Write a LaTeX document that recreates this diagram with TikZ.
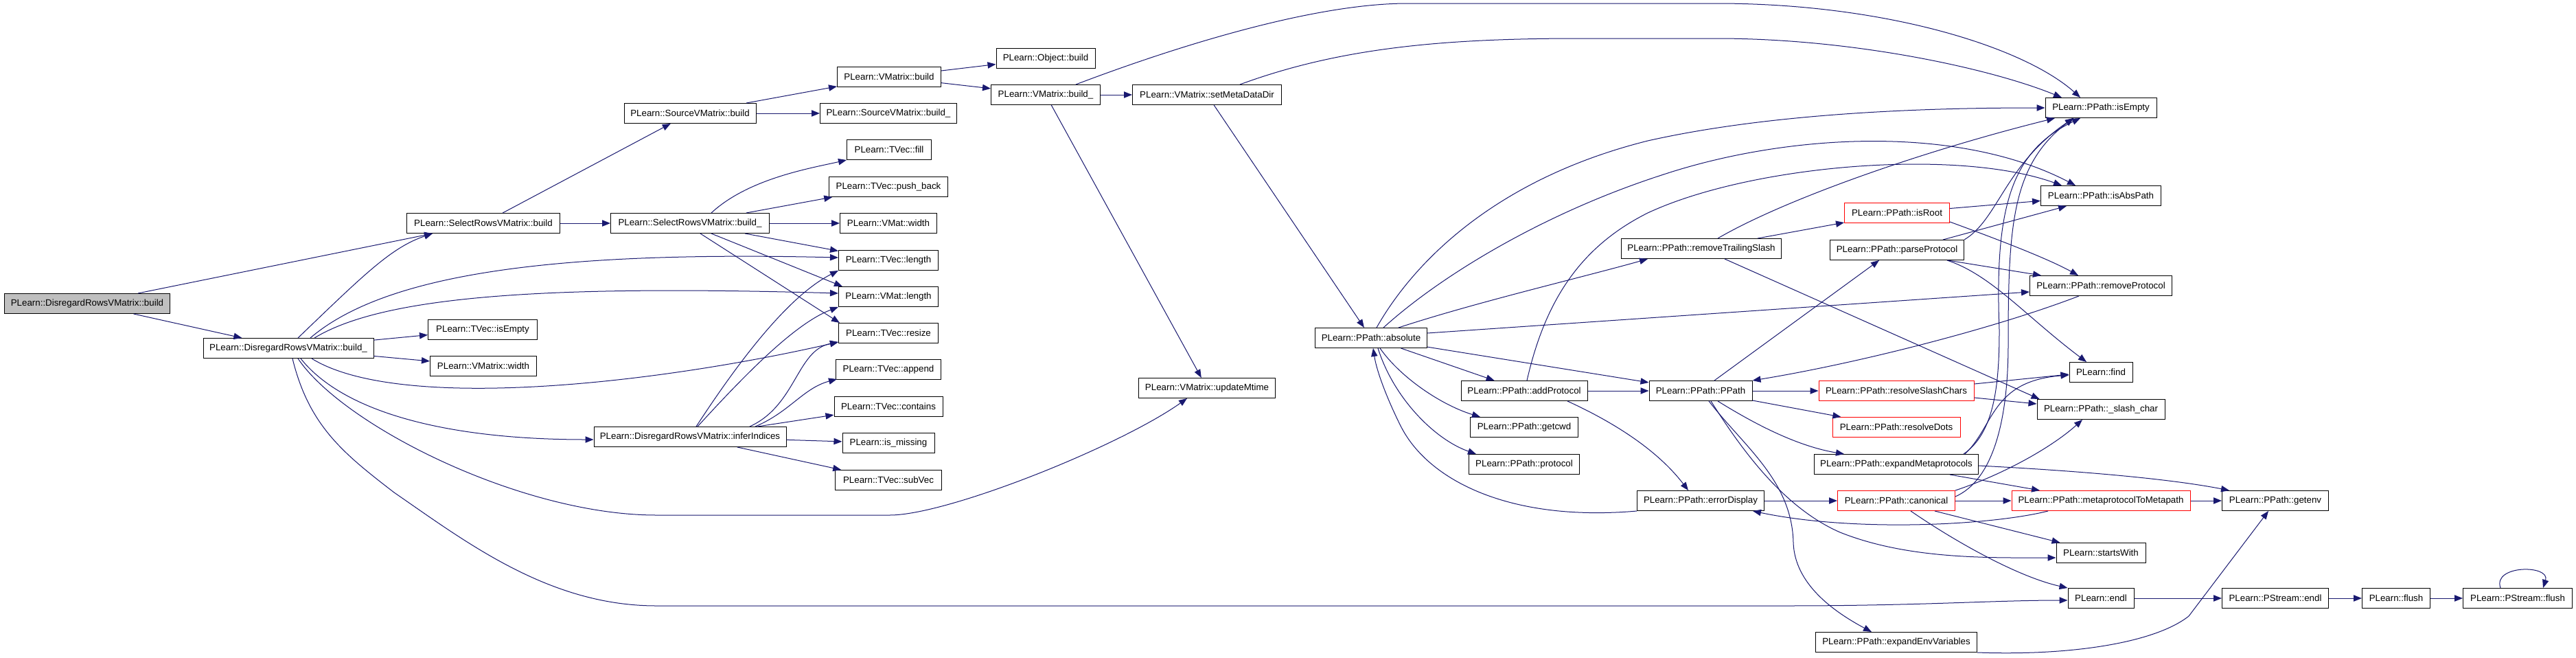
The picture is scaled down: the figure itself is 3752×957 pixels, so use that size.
\documentclass[tikz,border=0pt]{standalone}
\usepackage{fontspec}
\setmainfont{Liberation Sans}
\usetikzlibrary{arrows.meta}
\definecolor{edgec}{HTML}{191970}
\definecolor{redc}{HTML}{FF0000}
\definecolor{grayc}{HTML}{BFBFBF}
\tikzset{
  fn/.style={draw=black, line width=0.75pt, fill=white, minimum height=21.75pt, inner sep=0pt, font=\fontsize{10}{12}\selectfont, anchor=center},
  rfn/.style={fn, draw=redc},
  gfn/.style={fn, fill=grayc},
  e/.style={draw=edgec, line width=0.75pt, -{Triangle[length=9pt,width=7pt]}},
}
\begin{document}
\begin{tikzpicture}[x=0.75pt,y=-0.75pt]
\useasboundingbox (0,0) rectangle (3752,957);
\fill[white] (0,0) rectangle (3752,957);
% nodes
\node[gfn, minimum width=180.75pt] (drb) at (127,442) {PLearn::DisregardRowsVMatrix::build};
\node[fn, minimum width=186pt] (drb_) at (420,507) {PLearn::DisregardRowsVMatrix::build\_};
\node[fn, minimum width=167.25pt] (srb) at (704,325) {PLearn::SelectRowsVMatrix::build};
\node[fn, minimum width=119.25pt] (tisempty) at (703,480) {PLearn::TVec::isEmpty};
\node[fn, minimum width=116.25pt] (vmwidth) at (704,533) {PLearn::VMatrix::width};
\node[fn, minimum width=144pt] (svb) at (1005,165) {PLearn::SourceVMatrix::build};
\node[fn, minimum width=173.25pt] (srb_) at (1005,325) {PLearn::SelectRowsVMatrix::build\_};
\node[fn, minimum width=210pt] (infer) at (1005,636) {PLearn::DisregardRowsVMatrix::inferIndices};
\node[fn, minimum width=113.25pt] (vmb) at (1295,112) {PLearn::VMatrix::build};
\node[fn, minimum width=149.25pt] (svb_) at (1294,165) {PLearn::SourceVMatrix::build\_};
\node[fn, minimum width=92.25pt] (fill) at (1295,218) {PLearn::TVec::fill};
\node[fn, minimum width=129.75pt] (pushback) at (1294,272) {PLearn::TVec::push\_back};
\node[fn, minimum width=105.75pt] (vmatwidth) at (1294,325) {PLearn::VMat::width};
\node[fn, minimum width=108.75pt] (tlength) at (1294,379) {PLearn::TVec::length};
\node[fn, minimum width=108.75pt] (vlength) at (1294,432) {PLearn::VMat::length};
\node[fn, minimum width=108.75pt] (resize) at (1294,485) {PLearn::TVec::resize};
\node[fn, minimum width=114.75pt] (append) at (1294,538) {PLearn::TVec::append};
\node[fn, minimum width=118.5pt] (contains) at (1294,592) {PLearn::TVec::contains};
\node[fn, minimum width=100.5pt] (ismissing) at (1294,645) {PLearn::is\_missing};
\node[fn, minimum width=116.25pt] (subvec) at (1294,699) {PLearn::TVec::subVec};
\node[fn, minimum width=108pt] (objb) at (1523,85) {PLearn::Object::build};
\node[fn, minimum width=119.25pt] (vmb_) at (1523,138) {PLearn::VMatrix::build\_};
\node[fn, minimum width=162.75pt] (setmeta) at (1758,138) {PLearn::VMatrix::setMetaDataDir};
\node[fn, minimum width=149.25pt] (upd) at (1758,565) {PLearn::VMatrix::updateMtime};
\node[fn, minimum width=122.25pt] (absolute) at (1997,492) {PLearn::PPath::absolute};
\node[fn, minimum width=138pt] (addprot) at (2220,569) {PLearn::PPath::addProtocol};
\node[fn, minimum width=117.75pt] (getcwd) at (2220,622) {PLearn::PPath::getcwd};
\node[fn, minimum width=120.75pt] (protocol) at (2220,676) {PLearn::PPath::protocol};
\node[fn, minimum width=174.75pt] (rts) at (2478,362) {PLearn::PPath::removeTrailingSlash};
\node[fn, minimum width=112.5pt] (ppath) at (2477,569) {PLearn::PPath::PPath};
\node[fn, minimum width=138.75pt] (errdisp) at (2477,729) {PLearn::PPath::errorDisplay};
\node[rfn, minimum width=114.75pt] (isroot) at (2763,310) {PLearn::PPath::isRoot};
\node[fn, minimum width=146.25pt] (parse) at (2763,364) {PLearn::PPath::parseProtocol};
\node[rfn, minimum width=169.5pt] (rsc) at (2762,569) {PLearn::PPath::resolveSlashChars};
\node[rfn, minimum width=139.5pt] (rdots) at (2762,622) {PLearn::PPath::resolveDots};
\node[fn, minimum width=179.25pt] (expmeta) at (2762,676) {PLearn::PPath::expandMetaprotocols};
\node[rfn, minimum width=128.25pt] (canon) at (2762,729) {PLearn::PPath::canonical};
\node[fn, minimum width=176.25pt] (expenv) at (2762,935) {PLearn::PPath::expandEnvVariables};
\node[fn, minimum width=121.5pt] (isempty) at (3060,157) {PLearn::PPath::isEmpty};
\node[fn, minimum width=131.25pt] (isabs) at (3060,285) {PLearn::PPath::isAbsPath};
\node[fn, minimum width=155.25pt] (rmprot) at (3060,416) {PLearn::PPath::removeProtocol};
\node[fn, minimum width=69pt] (find) at (3060,542) {PLearn::find};
\node[fn, minimum width=139.5pt] (slash) at (3060,596) {PLearn::PPath::\_slash\_char};
\node[rfn, minimum width=195pt] (m2m) at (3060,729) {PLearn::PPath::metaprotocolToMetapath};
\node[fn, minimum width=116.25pt] (getenv) at (3314,729) {PLearn::PPath::getenv};
\node[fn, minimum width=97.5pt] (startswith) at (3060,805) {PLearn::startsWith};
\node[fn, minimum width=72pt] (endl) at (3060,871) {PLearn::endl};
\node[fn, minimum width=116.25pt] (psendl) at (3314,871) {PLearn::PStream::endl};
\node[fn, minimum width=74.25pt] (flush) at (3490,871) {PLearn::flush};
\node[fn, minimum width=119.25pt] (psflush) at (3667,871) {PLearn::PStream::flush};
% edges from DisregardRowsVMatrix::build
\draw[e] (drb) -- (srb);
\draw[e] (drb) -- (drb_);
% DisregardRowsVMatrix::build_
\draw[e] ([shift={(14,0)}]drb_.north) .. controls (530,400) and (570,360) .. ([shift={(-74,0)}]srb.south);
\draw[e] ([shift={(32,0)}]drb_.north) .. controls (560,400) and (800,365) .. ([shift={(0,-4)}]tlength.west);
\draw[e] ([shift={(38,0)}]drb_.north) .. controls (560,430) and (800,415) .. ([shift={(0,-5)}]vlength.west);
\draw[e] (drb_) -- (tisempty);
\draw[e] (drb_) -- (vmwidth);
\draw[e] ([shift={(34,0)}]drb_.south) .. controls (580,600) and (950,560) .. ([shift={(0,13)}]resize.west);
\draw[e] ([shift={(18,0)}]drb_.south) .. controls (500,600) and (650,640) .. ([shift={(0,4)}]infer.west);
\draw[e] ([shift={(14,0)}]drb_.south) .. controls (500,620) and (760,750) .. (956,750) -- (1296,750) .. controls (1380,750) and (1630,650) .. ([shift={(-29,0)}]upd.south);
\draw[e] ([shift={(6,0)}]drb_.south) .. controls (450,620) and (500,660) .. (574,717) .. controls (680,790) and (800,882) .. (956,882) -- (2600,882) .. controls (2800,882) and (2900,874) .. ([shift={(0,3)}]endl.west);
% SelectRowsVMatrix::build
\draw[e] (srb) -- (svb);
\draw[e] (srb) -- (srb_);
% SourceVMatrix::build
\draw[e] (svb) -- (vmb);
\draw[e] (svb) -- (svb_);
% VMatrix::build
\draw[e] (vmb) -- (objb);
\draw[e] (vmb) -- (vmb_);
% VMatrix::build_
\draw[e] (vmb_) -- (setmeta);
\draw[e] ([shift={(44,0)}]vmb_.north) .. controls (1680,80) and (1900,5) .. (2050,5) -- (2500,5) .. controls (2750,5) and (2950,70) .. ([shift={(-30,0)}]isempty.north);
\draw[e] (vmb_) -- (upd);
% setMetaDataDir
\draw[e] ([shift={(48,0)}]setmeta.north) .. controls (1950,70) and (2100,56) .. (2300,56) -- (2500,56) .. controls (2700,56) and (2900,100) .. ([shift={(-57,0)}]isempty.north);
\draw[e] (setmeta) -- (absolute);
% SelectRowsVMatrix::build_
\draw[e] ([shift={(31,0)}]srb_.north) .. controls (1090,260) and (1180,245) .. (fill.south west);
\draw[e] (srb_) -- (pushback);
\draw[e] (srb_) -- (vmatwidth);
\draw[e] (srb_) -- (tlength);
\draw[e] ([shift={(31,0)}]srb_.south) -- ([shift={(6,0)}]vlength.north west);
\draw[e] ([shift={(15,0)}]srb_.south) -- ([shift={(2,0)}]resize.north west);
% inferIndices
\draw[e] ([shift={(9,0)}]infer.north) .. controls (1080,520) and (1150,430) .. (tlength.south west);
\draw[e] ([shift={(11,0)}]infer.north) .. controls (1090,540) and (1160,470) .. (vlength.south west);
\draw[e] ([shift={(87,0)}]infer.north) .. controls (1160,590) and (1160,510) .. ([shift={(0,13)}]resize.west);
\draw[e] ([shift={(95,0)}]infer.north) .. controls (1150,600) and (1170,565) .. ([shift={(2,-1)}]append.south west);
\draw[e] (infer) -- (contains);
\draw[e] (infer) -- (ismissing);
\draw[e] (infer) -- (subvec);
% PPath::absolute
\draw[e] ([shift={(8,0)}]absolute.north) .. controls (2060,380) and (2180,260) .. (2400,205) .. controls (2600,160) and (2850,157) .. (isempty.west);
\draw[e] ([shift={(18,0)}]absolute.north) .. controls (2100,400) and (2250,310) .. (2420,255) .. controls (2600,195) and (2850,180) .. ([shift={(-37,0)}]isabs.north);
\draw[e] ([shift={(40,0)}]absolute.north) .. controls (2150,440) and (2300,405) .. ([shift={(-78,0)}]rts.south);
\draw[e] ([shift={(0,-7)}]absolute.east) -- ([shift={(0,9)}]rmprot.west);
\draw[e] (absolute) -- (ppath);
\draw[e] (absolute) -- (addprot);
\draw[e] ([shift={(13,0)}]absolute.south) .. controls (2040,550) and (2100,590) .. ([shift={(15,0)}]getcwd.north west);
\draw[e] ([shift={(10,0)}]absolute.south) .. controls (2030,580) and (2090,640) .. ([shift={(11,0)}]protocol.north west);
% errorDisplay
\draw[e] (errdisp.south west) .. controls (2200,760) and (2080,700) .. (2040,620) .. controls (2020,580) and (2005,540) .. ([shift={(3,0)}]absolute.south);
\draw[e] (errdisp) -- (canon);
% addProtocol
\draw[e] (addprot) -- (ppath);
\draw[e] ([shift={(63,0)}]addprot.south) .. controls (2340,610) and (2410,650) .. ([shift={(-18,0)}]errdisp.north);
\draw[e] ([shift={(4,0)}]addprot.north) .. controls (2250,440) and (2300,360) .. (2400,310) .. controls (2550,240) and (2850,215) .. ([shift={(-57,0)}]isabs.north);
% removeTrailingSlash
\draw[e] (rts) -- (isroot);
\draw[e] ([shift={(24,0)}]rts.north) .. controls (2600,290) and (2800,220) .. ([shift={(-67,0)}]isempty.south);
\draw[e] ([shift={(34,0)}]rts.south) -- ([shift={(4,0)}]slash.north west);
% isRoot
\draw[e] (isroot) -- (isabs);
\draw[e] ([shift={(0,13)}]isroot.east) .. controls (2900,345) and (2980,375) .. ([shift={(-33,0)}]rmprot.north);
% parseProtocol
\draw[e] ([shift={(67,0)}]parse.north) -- ([shift={(-50,0)}]isabs.south);
\draw[e] (parse.north east) .. controls (2910,320) and (2920,240) .. ([shift={(-40,0)}]isempty.south);
\draw[e] ([shift={(74,0)}]parse.south) -- ([shift={(-87,0)}]rmprot.north);
\draw[e] ([shift={(73,0)}]parse.south) .. controls (2900,400) and (2950,460) .. ([shift={(-21,0)}]find.north);
% PPath::PPath
\draw[e] ([shift={(20,0)}]ppath.north) -- ([shift={(-26,0)}]parse.south);
\draw[e] (ppath) -- (rsc);
\draw[e] (ppath) -- (rdots);
\draw[e] ([shift={(25,0)}]ppath.south) .. controls (2560,620) and (2620,650) .. ([shift={(-76,0)}]expmeta.north);
\draw[e] ([shift={(15,0)}]ppath.south) .. controls (2540,660) and (2600,740) .. (2680,775) .. controls (2780,815) and (2900,812) .. ([shift={(0,7)}]startswith.west);
\draw[e] ([shift={(12,0)}]ppath.south) .. controls (2540,650) and (2610,700) .. (2612,790) .. controls (2614,850) and (2670,890) .. ([shift={(-36,0)}]expenv.north);
% resolveSlashChars
\draw[e] ([shift={(0,-10)}]rsc.east) -- ([shift={(0,3)}]find.west);
\draw[e] ([shift={(0,10)}]rsc.east) -- ([shift={(0,-8)}]slash.west);
% expandMetaprotocols
\draw[e] ([shift={(-22,0)}]expmeta.north east) .. controls (2905,630) and (2912,560) .. (2912,480) .. controls (2905,300) and (2930,220) .. ([shift={(-30,0)}]isempty.south);
\draw[e] ([shift={(-20,0)}]expmeta.north east) .. controls (2905,620) and (2900,555) .. ([shift={(0,4)}]find.west);
\draw[e] ([shift={(0,2)}]expmeta.east) .. controls (3000,684) and (3150,695) .. ([shift={(11,0)}]getenv.north west);
\draw[e] ([shift={(78,0)}]expmeta.south) -- ([shift={(-89,0)}]m2m.north);
% canonical
\draw[e] ([shift={(0,-6)}]canon.east) .. controls (2900,700) and (2925,620) .. (2925,500) .. controls (2925,330) and (2930,240) .. ([shift={(-40,0)}]isempty.south);
\draw[e] (canon.north east) .. controls (2920,690) and (2990,650) .. ([shift={(-27,0)}]slash.south);
\draw[e] (canon) -- (m2m);
\draw[e] ([shift={(56,0)}]canon.south) -- ([shift={(6,0)}]startswith.north west);
\draw[e] ([shift={(21,0)}]canon.south) .. controls (2850,790) and (2940,840) .. (endl.north west);
% metaprotocolToMetapath
\draw[e] ([shift={(-77,0)}]m2m.south) .. controls (2900,765) and (2700,775) .. ([shift={(-17,0)}]errdisp.south east);
\draw[e] (m2m) -- (getenv);
% expandEnvVariables
\draw[e] (expenv.south east) .. controls (3020,955) and (3140,935) .. (3188,897) -- ([shift={(-10,0)}]getenv.south);
% removeProtocol
\draw[e] ([shift={(-32,0)}]rmprot.south) .. controls (2900,480) and (2700,530) .. (ppath.north east);
% endl chain
\draw[e] (endl) -- (psendl);
\draw[e] (psendl) -- (flush);
\draw[e] (flush) -- (psflush);
\draw[e] ([shift={(-25,0)}]psflush.north) .. controls (3630,822) and (3715,822) .. ([shift={(37,0)}]psflush.north);
\end{tikzpicture}
\end{document}
